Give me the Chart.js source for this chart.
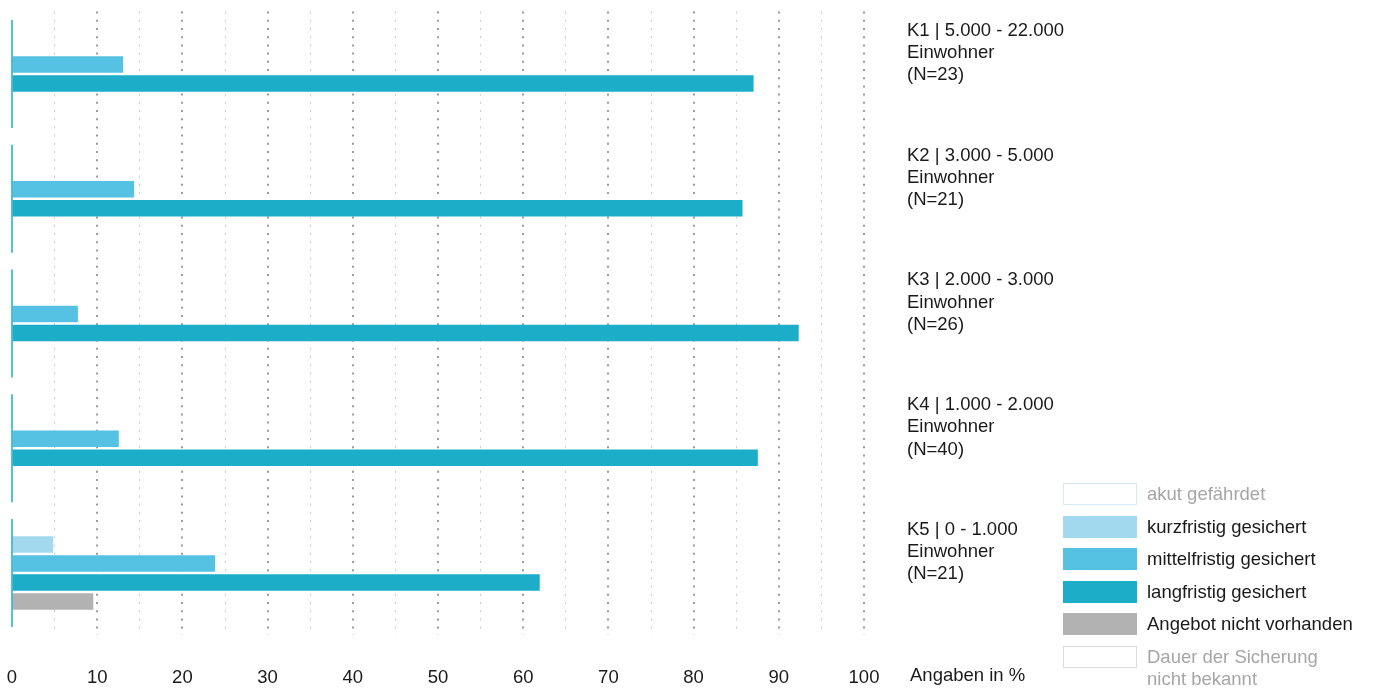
<!DOCTYPE html>
<html lang="de">
<head>
<meta charset="utf-8">
<title>Sicherung nach Gemeindegröße</title>
<script src="https://cdn.jsdelivr.net/npm/chart.js@4.4.1/dist/chart.umd.min.js"></script>
<style>
  html, body { margin: 0; padding: 0; background: #fff; }
  #wrap { position: relative; width: 1374px; height: 689px; }
  #legend {
    position: absolute; left: 1063px; top: 483px;
    font: 18.5px "Liberation Sans", Arial, sans-serif;
  }
  .item { display: flex; align-items: flex-start; height: 32.6px; }
  .box { width: 74px; height: 22px; box-sizing: border-box; margin-right: 10px; flex: none; }
  .txt { line-height: 22px; white-space: pre; }
</style>
</head>
<body>
<div id="wrap">
  <canvas id="chart" width="1374" height="689"></canvas>
  <div id="legend"></div>
</div>
<script>
// ---- data ----
const categories = [
  ['K1 | 5.000 - 22.000', 'Einwohner', '(N=23)'],
  ['K2 | 3.000 - 5.000', 'Einwohner', '(N=21)'],
  ['K3 | 2.000 - 3.000', 'Einwohner', '(N=26)'],
  ['K4 | 1.000 - 2.000', 'Einwohner', '(N=40)'],
  ['K5 | 0 - 1.000', 'Einwohner', '(N=21)']
];
const seriesNames = [
  'akut gefährdet',
  'kurzfristig gesichert',
  'mittelfristig gesichert',
  'langfristig gesichert',
  'Angebot nicht vorhanden',
  'Dauer der Sicherung\nnicht bekannt'
];
const akutGefaehrdet   = [null, null, null, null, null];
const kurzfristig      = [null, null, null, null, 4.8];
const mittelfristig    = [13.0, 14.3, 7.7, 12.5, 23.8];
const langfristig      = [87.0, 85.7, 92.3, 87.5, 61.9];
const nichtVorhanden   = [null, null, null, null, 9.5];
const dauerUnbekannt   = [null, null, null, null, null];
const xTickLabels = ['0', '10', '20', '30', '40', '50', '60', '70', '80', '90', '100'];
const axisUnit = 'Angaben in %';

// ---- styles ----
const FONT = '"Liberation Sans", Arial, sans-serif';
const TEXT = '#1a1a1a';
const CYAN = '#1cadc9';

const fills   = ['#ffffff', '#a3d9ee', '#56c2e3', CYAN, '#b2b2b2', '#ffffff'];
const borders = ['#d3ebf4', '#a3d9ee', '#56c2e3', CYAN, '#b2b2b2', '#dcdcdc'];
const legendText = ['#a6a6a6', TEXT, TEXT, TEXT, TEXT, '#a6a6a6'];
const seriesData = [akutGefaehrdet, kurzfristig, mittelfristig, langfristig, nichtVorhanden, dauerUnbekannt];

// cyan axis segments per group + unit label
const extras = {
  id: 'extras',
  afterDatasetsDraw(chart) {
    const { ctx, scales: { x, y } } = chart;
    const x0 = x.getPixelForValue(0);
    ctx.save();
    ctx.strokeStyle = CYAN;
    ctx.lineWidth = 1.5;
    y.ticks.forEach((t, i) => {
      const py = y.getPixelForTick(i);
      ctx.beginPath();
      ctx.moveTo(x0, py - 54);
      ctx.lineTo(x0, py + 54);
      ctx.stroke();
    });
    ctx.fillStyle = TEXT;
    ctx.font = '18.5px ' + FONT;
    ctx.textAlign = 'left';
    ctx.textBaseline = 'top';
    ctx.fillText(axisUnit, x.right + 46, x.top + 31);
    ctx.restore();
  }
};

new Chart(document.getElementById('chart'), {
  type: 'bar',
  data: {
    labels: categories,
    datasets: seriesNames.map((name, i) => ({
      label: name,
      data: seriesData[i],
      backgroundColor: fills[i],
      borderWidth: 0
    }))
  },
  options: {
    indexAxis: 'y',
    responsive: false,
    animation: false,
    skipNull: true,
    barThickness: 19,
    maxBarThickness: 16,
    layout: { padding: { left: 12, top: 11.6, right: 0, bottom: 0 } },
    plugins: { legend: { display: false }, tooltip: { enabled: false } },
    scales: {
      x: {
        min: 0, max: 100,
        border: { display: false, dash: [2, 6.2] },
        grid: {
          drawTicks: false,
          color: (c) => c.tick.value === 0 ? 'rgba(0,0,0,0)' : (c.tick.value % 10 === 0 ? '#9c9c9c' : '#c9c9c9'),
          lineWidth: (c) => c.tick.value % 10 === 0 ? 2 : 1
        },
        afterFit: (axis) => { axis.height = 53.6; axis.paddingLeft = 0; axis.paddingRight = 0; },
        ticks: {
          stepSize: 5,
          autoSkip: false,
          maxRotation: 0,
          padding: 31,
          color: TEXT,
          font: { family: FONT, size: 18.5 },
          callback: (v) => v % 10 === 0 ? xTickLabels[v / 10] : ''
        }
      },
      y: {
        position: 'right',
        border: { display: false },
        grid: { display: false, drawTicks: false },
        afterFit: (axis) => { axis.width = 510; axis.paddingTop = 0; axis.paddingBottom = 0; },
        ticks: {
          padding: 43,
          labelOffset: -21,
          crossAlign: 'near',
          color: TEXT,
          font: { family: FONT, size: 18.5, lineHeight: 1.2 }
        }
      }
    }
  },
  plugins: [extras]
});

// ---- legend ----
const legend = document.getElementById('legend');
seriesNames.forEach((name, i) => {
  const item = document.createElement('div');
  item.className = 'item';
  const box = document.createElement('div');
  box.className = 'box';
  box.style.background = fills[i];
  box.style.border = '1.5px solid ' + borders[i];
  const txt = document.createElement('div');
  txt.className = 'txt';
  txt.style.color = legendText[i];
  txt.textContent = name;
  item.appendChild(box);
  item.appendChild(txt);
  legend.appendChild(item);
});
</script>
</body>
</html>
